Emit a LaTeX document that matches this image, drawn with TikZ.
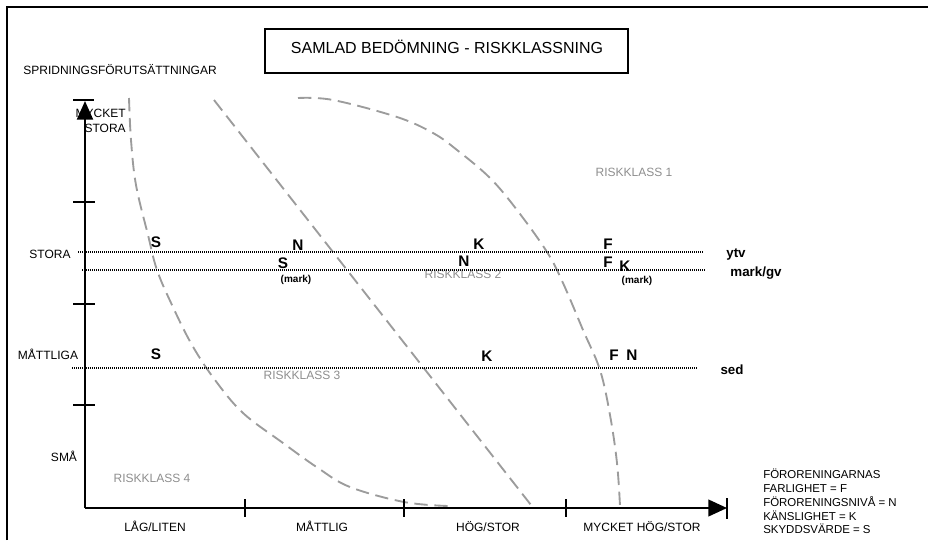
\documentclass[tikz,border=0pt]{standalone}
\usepackage{fontspec}
\setmainfont{Liberation Sans}
\usetikzlibrary{arrows.meta}
\definecolor{curvegray}{HTML}{9C9C9C}
\definecolor{labelgray}{HTML}{8E8E8E}
\begin{document}
\begin{tikzpicture}[x=0.75pt,y=-0.75pt,
  txt/.style={inner sep=0pt, anchor=base, font=\fontsize{9}{10.4}\selectfont},
  titletxt/.style={inner sep=0pt, anchor=base, font=\fontsize{12}{14}\selectfont},
  letter/.style={inner sep=0pt, anchor=base, font=\fontsize{11.5}{13}\selectfont\bfseries},
  marknote/.style={inner sep=0pt, anchor=base, font=\fontsize{7.5}{9}\selectfont\bfseries},
  medium/.style={inner sep=0pt, anchor=base, font=\fontsize{10}{12}\selectfont\bfseries},
  riskclass/.style={inner sep=0pt, anchor=base, text=labelgray, font=\fontsize{9}{10.8}\selectfont},
  legendline/.style={inner sep=0pt, anchor=base west, font=\fontsize{8.6}{10.4}\selectfont},
  boundary/.style={draw=curvegray, line width=1.4pt, dash pattern=on 10pt off 5pt},
  medline/.style={line width=1.7pt, dash pattern=on 0.75pt off 0.75pt},
  axis/.style={line width=1.6pt},
  tickmark/.style={line width=1.8pt},
  framestyle/.style={line width=1.7pt}
]
\useasboundingbox (0,0) rectangle (928,540);

% frame
\coordinate (fbl) at (7,540);
\coordinate (ftl) at (7,7);
\coordinate (ftr) at (928,7);
\draw[framestyle] (fbl) -- (ftl) -- (ftr);

% title
\draw[line width=1.1pt] (265,29) rectangle (628,73);
\node[titletxt] (title) at (447,53) {SAMLAD BEDÖMNING - RISKKLASSNING};

\node[txt] (spread) at (120,74) {SPRIDNINGSFÖRUTSÄTTNINGAR};

% boundary curves
\draw[boundary] plot[smooth, tension=0.6] coordinates {(129,98) (131,140) (136,185) (148,235) (157,270) (172,305) (192,345) (215,380) (243,413) (283,443) (318,468) (350,487) (404,502) (448,506)};
\draw[boundary] (214,100) -- (531,505);
\draw[boundary] plot[smooth, tension=0.6] coordinates {(298,98) (333,100) (397,117) (433,133) (457,150) (490,178) (517,210) (547,252) (563,283) (583,330) (600,370) (610,415) (617,463) (620,506)};

% risk classes
\node[riskclass] (rk1) at (634,176) {RISKKLASS 1};
\node[riskclass] (rk2) at (463,278) {RISKKLASS 2};
\node[riskclass] (rk3) at (302,379) {RISKKLASS 3};
\node[riskclass] (rk4) at (152,482) {RISKKLASS 4};

% medium lines
\coordinate (ytvA) at (78,252);
\coordinate (ytvB) at (703,252);
\coordinate (markA) at (82,270);
\coordinate (markB) at (706,270);
\coordinate (sedA) at (72,368);
\coordinate (sedB) at (697,368);
\draw[medline] (ytvA) -- (ytvB);
\draw[medline] (markA) -- (markB);
\draw[medline] (sedA) -- (sedB);
\node[medium] (ytv) at (736,257) {ytv};
\node[medium] (markgv) at (756,276) {mark/gv};
\node[medium] (sed) at (732,374) {sed};

% letters, ytv row
\node[letter] (S1) at (156,247) {S};
\node[letter] (N1) at (298,250) {N};
\node[letter] (K1) at (479,249) {K};
\node[letter] (F1) at (608,249) {F};
% letters, mark row
\node[letter] (S2) at (283,268) {S};
\node[marknote] (S2m) at (296,282) {(mark)};
\node[letter] (N2) at (464,266) {N};
\node[letter] (F2) at (608,267) {F};
\node[letter] (K2) at (625,271) {K};
\node[marknote] (K2m) at (637,283) {(mark)};
% letters, sed row
\node[letter] (S3) at (156,359) {S};
\node[letter] (K3) at (487,361) {K};
\node[letter] (F3) at (614,360) {F};
\node[letter] (N3) at (632,360) {N};

% y-axis labels
\node[txt, anchor=base east] (mycket) at (126,117) {MYCKET};
\node[txt, anchor=base east] (mstora) at (126,132) {STORA};
\node[txt] (stora) at (50,258) {STORA};
\node[txt] (mattliga) at (48,359) {MÅTTLIGA};
\node[txt] (sma) at (64,461) {SMÅ};

% x-axis labels
\node[txt] (lag) at (155,531) {LÅG/LITEN};
\node[txt] (mattlig) at (322,531) {MÅTTLIG};
\node[txt] (hog) at (488,531) {HÖG/STOR};
\node[txt] (mhog) at (642,531) {MYCKET HÖG/STOR};

% legend
\node[legendline] (lg1) at (763,478) {FÖRORENINGARNAS};
\node[legendline] (lg2) at (763,492) {FARLIGHET = F};
\node[legendline] (lg3) at (763,506) {FÖRORENINGSNIVÅ = N};
\node[legendline] (lg4) at (763,520) {KÄNSLIGHET = K};
\node[legendline] (lg5) at (763,533) {SKYDDSVÄRDE = S};

% axes
\coordinate (origin) at (85,508);
\coordinate (ytop) at (85,101);
\coordinate (xend) at (727,508);
\draw[axis, -{Triangle[length=14pt,width=12pt]}] (origin) -- (ytop);
\draw[axis, -{Triangle[length=14pt,width=12.5pt]}] (origin) -- (xend);
\coordinate (ybarL) at (73,100);
\coordinate (ybarR) at (94,100);
\draw[line width=1.4pt] (ybarL) -- (ybarR);
\coordinate (xbarT) at (727,498);
\coordinate (xbarB) at (727,519);
\draw[line width=1.4pt] (xbarT) -- (xbarB);

% ticks
\foreach \yy in {202,304,405}
  \draw[tickmark] (73,\yy) -- (95,\yy);
\foreach \xx in {245,404,566}
  \draw[tickmark] (\xx,499) -- (\xx,517);
\end{tikzpicture}
\end{document}
